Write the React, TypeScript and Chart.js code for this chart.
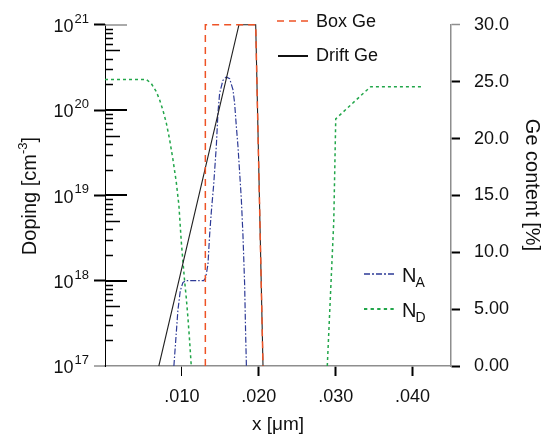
import React, { useEffect, useRef } from "react";
import { Chart, registerables } from "chart.js";

Chart.register(...registerables);

const FONT = '"Liberation Sans", Arial, Helvetica, sans-serif';

// axis ticks
const xTickValues = [0.01, 0.02, 0.03, 0.04];
const xTickLabels = [".010", ".020", ".030", ".040"];
const geTickLabels = ["0.00", "5.00", "10.0", "15.0", "20.0", "25.0", "30.0"];
const dopingExponents = [17, 18, 19, 20, 21];
const minorMultipliers = [2, 3, 4, 5, 6, 7, 8, 9];

// Ge content [%] (right axis)
const boxGeX = [0.01305, 0.01305, 0.0196, 0.02055];
const boxGeVal = [0, 30, 30, 0];
const driftGeX = [0.007, 0.01742, 0.0196, 0.02055];
const driftGeVal = [0, 30, 30, 0];

// Doping [cm^-3] (left axis)
const naX = [
  0.00896, 0.00914, 0.00948, 0.00979, 0.01013, 0.01048, 0.01283, 0.01309, 0.01339, 0.01361,
  0.01383, 0.01413, 0.01448, 0.01469, 0.01491, 0.01534, 0.01578, 0.01621, 0.01664, 0.01686,
  0.01708, 0.01729, 0.01751, 0.01773, 0.01794, 0.01816, 0.01829, 0.01839,
];
const naVal = [
  1.0e17, 1.68e17, 4.47e17, 7.6e17, 9.5e17, 1.0e18, 1.0e18, 1.08e18, 1.55e18, 3.47e18,
  6.46e18, 1.32e19, 3.8e19, 9.3e19, 1.58e20, 2.24e20, 2.45e20, 2.34e20, 1.74e20, 1.2e20,
  6.46e19, 3.8e19, 1.86e19, 9.1e18, 3.47e18, 9.1e17, 2.4e17, 1.0e17,
];
const ndX = [
  0, 0.00536, 0.00602, 0.00667, 0.0071, 0.00753, 0.00797, 0.0084, 0.00883, 0.00927,
  0.00961, 0.00992, 0.01013, 0.01035, 0.01057, 0.01078, 0.011, 0.01122,
  0.02,
  0.02891, 0.02975, 0.03001, 0.03388, 0.03457, 0.04121,
];
const ndVal = [
  2.29e20, 2.29e20, 2.05e20, 1.65e20, 1.32e20, 1.0e20, 7.08e19, 4.54e19, 2.66e19, 1.43e19,
  7.68e18, 2.88e18, 1.7e18, 1.0e18, 6.3e17, 3.73e17, 2.0e17, 1.0e17,
  null,
  1.0e17, 4.9e18, 7.9e19, 1.66e20, 1.88e20, 1.88e20,
];

const ORANGE = "#ee5326";
const NAVY = "#2d3a96";
const GREEN = "#22a64a";
const GRAY = "#8e8e8e";
const TEXT = "#111111";

const pts = (xs: number[], ys: (number | null)[]) => xs.map((x, i) => ({ x, y: ys[i] }));

const decorPlugin = {
  id: "decor",
  afterDatasetsDraw(chart: any) {
    const ctx = chart.ctx as CanvasRenderingContext2D;
    const yS = chart.scales.y;
    const left = chart.chartArea.left;
    const bottom = chart.chartArea.bottom;
    ctx.save();

    // bottom axis extension to the left
    ctx.strokeStyle = GRAY;
    ctx.lineWidth = 1.5;
    ctx.beginPath();
    ctx.moveTo(left - 11, bottom);
    ctx.lineTo(left, bottom);
    ctx.stroke();

    // inner ticks of log axis
    for (const e of dopingExponents) {
      const py = Math.round(yS.getPixelForValue(Math.pow(10, e)));
      if (e > 17) {
        ctx.strokeStyle = e === 21 ? GRAY : "#000";
        ctx.lineWidth = e === 21 ? 1.5 : 2;
        ctx.beginPath();
        ctx.moveTo(left, py);
        ctx.lineTo(left + 22, py);
        ctx.stroke();
      }
      if (e < 21) {
        for (const m of minorMultipliers) {
          const p = Math.round(yS.getPixelForValue(m * Math.pow(10, e))) + 0.5;
          ctx.strokeStyle = "#000";
          ctx.lineWidth = 1.5;
          ctx.beginPath();
          ctx.moveTo(left, p);
          ctx.lineTo(left + (m === 5 ? 15 : 8), p);
          ctx.stroke();
        }
      }
    }

    // log axis labels 10^n
    ctx.fillStyle = TEXT;
    ctx.textBaseline = "alphabetic";
    for (const e of dopingExponents) {
      const py = yS.getPixelForValue(Math.pow(10, e));
      const expText = String(e);
      ctx.font = `13px ${FONT}`;
      const ew = ctx.measureText(expText).width;
      const expRight = 89;
      ctx.textAlign = "left";
      ctx.fillText(expText, expRight - ew, py - 2);
      ctx.font = `18px ${FONT}`;
      ctx.textAlign = "right";
      ctx.fillText("10", expRight - ew - 1, py + 7.2);
    }

    // left axis title: Doping [cm^-3]
    {
      ctx.font = `20px ${FONT}`;
      const a = "Doping [cm";
      const c = "]";
      const wa = ctx.measureText(a).width;
      const wc = ctx.measureText(c).width;
      ctx.font = `13px ${FONT}`;
      const b = "-3";
      const wb = ctx.measureText(b).width;
      const total = wa + wb + wc;
      const cy = 196;
      ctx.save();
      ctx.translate(35.5, cy + total / 2);
      ctx.rotate(-Math.PI / 2);
      ctx.textAlign = "left";
      ctx.font = `20px ${FONT}`;
      ctx.fillText(a, 0, 0);
      ctx.font = `13px ${FONT}`;
      ctx.fillText(b, wa, -9);
      ctx.font = `20px ${FONT}`;
      ctx.fillText(c, wa + wb, 0);
      ctx.restore();
    }

    // right axis title
    {
      const t = "Ge content [%]";
      ctx.font = `20px ${FONT}`;
      const w = ctx.measureText(t).width;
      ctx.save();
      ctx.translate(526, 185 - w / 2);
      ctx.rotate(Math.PI / 2);
      ctx.textAlign = "left";
      ctx.fillText(t, 0, 0);
      ctx.restore();
    }

    // legends
    const legendLine = (x1: number, x2: number, y: number, color: string, width: number, dash: number[]) => {
      ctx.strokeStyle = color;
      ctx.lineWidth = width;
      ctx.setLineDash(dash);
      ctx.beginPath();
      ctx.moveTo(x1, y);
      ctx.lineTo(x2, y);
      ctx.stroke();
      ctx.setLineDash([]);
    };
    ctx.textAlign = "left";
    ctx.fillStyle = TEXT;
    legendLine(277, 308, 21, ORANGE, 1.5, [7, 5]);
    ctx.font = `18px ${FONT}`;
    ctx.fillText("Box Ge", 316, 27);
    legendLine(278, 308, 56, "#111", 2, []);
    ctx.fillText("Drift Ge", 316, 60.5);

    legendLine(364, 394, 274, NAVY, 1.5, [6, 2, 2, 2]);
    ctx.font = `20px ${FONT}`;
    ctx.fillText("N", 402, 282);
    const nw = ctx.measureText("N").width;
    ctx.font = `14px ${FONT}`;
    ctx.fillText("A", 402 + nw - 1, 286.5);

    legendLine(364, 394, 309, GREEN, 2, [3.3, 3.3]);
    ctx.font = `20px ${FONT}`;
    ctx.fillText("N", 402, 317);
    ctx.font = `14px ${FONT}`;
    ctx.fillText("D", 402 + nw - 1, 321.5);

    ctx.restore();
  },
};

export default function App() {
  const canvasRef = useRef<HTMLCanvasElement | null>(null);

  useEffect(() => {
    const canvas = canvasRef.current;
    if (!canvas) return;
    const chart = new Chart(canvas, {
      type: "line",
      data: {
        datasets: [
          {
            label: "Box Ge",
            data: pts(boxGeX, boxGeVal),
            yAxisID: "y2",
            borderColor: ORANGE,
            borderWidth: 1.5,
            borderDash: [7, 5],
            pointRadius: 0,
            clip: 4,
          },
          {
            label: "Drift Ge",
            data: pts(driftGeX, driftGeVal),
            yAxisID: "y2",
            borderColor: "#222222",
            borderWidth: 1.1,
            pointRadius: 0,
            clip: 4,
          },
          {
            label: "N_A",
            data: pts(naX, naVal),
            yAxisID: "y",
            borderColor: NAVY,
            borderWidth: 1.2,
            borderDash: [6, 2, 1.5, 2],
            pointRadius: 0,
            clip: 4,
          },
          {
            label: "N_D",
            data: pts(ndX, ndVal),
            yAxisID: "y",
            borderColor: GREEN,
            borderWidth: 1.5,
            borderDash: [3, 3],
            pointRadius: 0,
            spanGaps: false,
            clip: 4,
          },
        ],
      },
      options: {
        animation: false,
        responsive: false,
        devicePixelRatio: 1,
        layout: { padding: { top: 21, left: 0, right: 0, bottom: 0 } },
        plugins: { legend: { display: false }, tooltip: { enabled: false } },
        elements: { line: { tension: 0 } },
        scales: {
          x: {
            type: "linear",
            position: "bottom",
            min: 0,
            max: 0.045,
            afterBuildTicks: (s: any) => {
              s.ticks = xTickValues.map((v) => ({ value: v }));
            },
            afterFit: (s: any) => {
              s.height = 68;
            },
            grid: {
              drawOnChartArea: false,
              drawTicks: true,
              tickLength: 10,
              tickColor: "#000",
              tickWidth: (c: any) => (c.index === 0 ? 1 : 2),
            },
            border: { color: GRAY, width: 1.5 },
            ticks: {
              autoSkip: false,
              maxRotation: 0,
              padding: 10,
              color: TEXT,
              font: { size: 18, family: FONT },
              callback: (_v: any, i: number) => xTickLabels[i],
            },
            title: {
              display: true,
              text: "x [μm]",
              color: TEXT,
              font: { size: 19, family: FONT, lineHeight: 1 },
              padding: { top: 0, bottom: 0 },
            },
          },
          y: {
            type: "logarithmic",
            position: "left",
            min: 1e17,
            max: 1e21,
            afterBuildTicks: (s: any) => {
              s.ticks = dopingExponents.map((e) => ({ value: Math.pow(10, e) }));
            },
            afterFit: (s: any) => {
              s.width = 105;
            },
            grid: {
              drawOnChartArea: false,
              drawTicks: true,
              tickLength: 11,
              tickColor: (c: any) => (c.index === 0 ? "rgba(0,0,0,0)" : "#000"),
              tickWidth: 2,
            },
            border: { color: "#000", width: 1 },
            ticks: { display: false },
          },
          y2: {
            type: "linear",
            position: "right",
            min: 0,
            max: 30,
            afterFit: (s: any) => {
              s.width = 104;
            },
            grid: {
              drawOnChartArea: false,
              drawTicks: true,
              tickLength: 9,
              tickColor: (c: any) => (c.tick && c.tick.value === 30 ? GRAY : "#000"),
              tickWidth: (c: any) => (c.tick && c.tick.value === 30 ? 1.5 : 2),
            },
            border: { color: GRAY, width: 1.5 },
            ticks: {
              stepSize: 5,
              padding: 14,
              color: TEXT,
              font: { size: 18, family: FONT },
              callback: (_v: any, i: number) => geTickLabels[i],
            },
          },
        },
      },
      plugins: [decorPlugin],
    } as any);
    return () => chart.destroy();
  }, []);

  return (
    <div style={{ position: "absolute", left: 0, top: 0, width: 555, height: 434, background: "#fff" }}>
      <canvas ref={canvasRef} width={555} height={434} style={{ width: 555, height: 434, display: "block" }} />
    </div>
  );
}
